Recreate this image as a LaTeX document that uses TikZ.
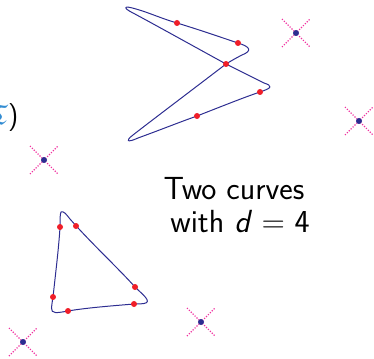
\documentclass[tikz,border=0pt]{standalone}
\usepackage{fontspec}
\usepackage{amssymb}
\definecolor{curveblue}{RGB}{45,45,145}
\definecolor{dotred}{RGB}{240,30,40}
\definecolor{crosspink}{RGB}{240,50,160}
\definecolor{fragblue}{RGB}{50,140,210}
\tikzset{
  curveline/.style={draw=curveblue, line width=1pt},
  reddot/.style={fill=dotred},
  crossline/.style={draw=crosspink, line width=1.1pt, dash pattern=on 1.2pt off 1.5pt},
  crossdot/.style={fill=curveblue},
  lbl/.style={font=\sffamily\fontsize{32}{38}\selectfont, inner sep=0pt, anchor=base},
  fraglbl/.style={font=\sffamily\fontsize{28}{33}\selectfont, inner sep=0pt},
}
\begin{document}
\begin{tikzpicture}[x=1pt,y=-1pt]
\useasboundingbox (0,0) rectangle (374,358);

% cut-off text at left edge
\node[fraglbl, anchor=base east] (frag) at (18.5,125) {{\color{fragblue}$\mathfrak{T}$})};

% text
\node[lbl] (t1) at (234,199) {Two curves};
\node[lbl] (t2) at (240,232) {with \textit{d}\kern0.3em=\kern0.3em4};

% upper curve
\path[curveline] (226,64)
  .. controls (195,47) and (150,22) .. (133,13)
  .. controls (123,8) and (123,5) .. (136,9)
  .. controls (150,13) and (160,18) .. (177,23)
  .. controls (200,30) and (220,37) .. (238,43)
  .. controls (251,47) and (252,51) .. (242,55)
  .. controls (236,58) and (231,61) .. (226,64)
  .. controls (192,90) and (147,124) .. (133,135)
  .. controls (125,141) and (127,143) .. (138,138)
  .. controls (160,130) and (180,122) .. (197,116)
  .. controls (220,107) and (245,97) .. (260,92)
  .. controls (272,88) and (273,86) .. (264,83)
  .. controls (250,76) and (238,70) .. (226,64) -- cycle;
\foreach \p in {(177,23),(238,43),(226,64),(260,92),(197,116)}
  \fill[reddot] \p circle (3);

% lower curve (triangle-like)
\path[curveline] (61,212)
  .. controls (64,211) and (66,214) .. (70,219)
  .. controls (90,242) and (120,270) .. (135,287)
  .. controls (142,294) and (153,302) .. (144,303.5)
  .. controls (140,304) and (137,304) .. (134,304)
  .. controls (110,306) and (85,308) .. (68,311)
  .. controls (57,313) and (51,314) .. (51.5,308)
  .. controls (52,303) and (52.5,300) .. (53,297)
  .. controls (56,270) and (59,245) .. (60,227)
  .. controls (60,220) and (60,214) .. (61,212) -- cycle;
\foreach \p in {(60,227),(76,226),(135,287),(134,304),(68,311),(53,297)}
  \fill[reddot] \p circle (3);

% crosses
\foreach \cx/\cy in {44/160, 296/33, 359/121, 201/322, 23/342} {
  \draw[crossline] (\cx-14,\cy-14) -- (\cx+14,\cy+14);
  \draw[crossline] (\cx-14,\cy+14) -- (\cx+14,\cy-14);
  \fill[crossdot] (\cx,\cy) circle (3);
}
\end{tikzpicture}
\end{document}
